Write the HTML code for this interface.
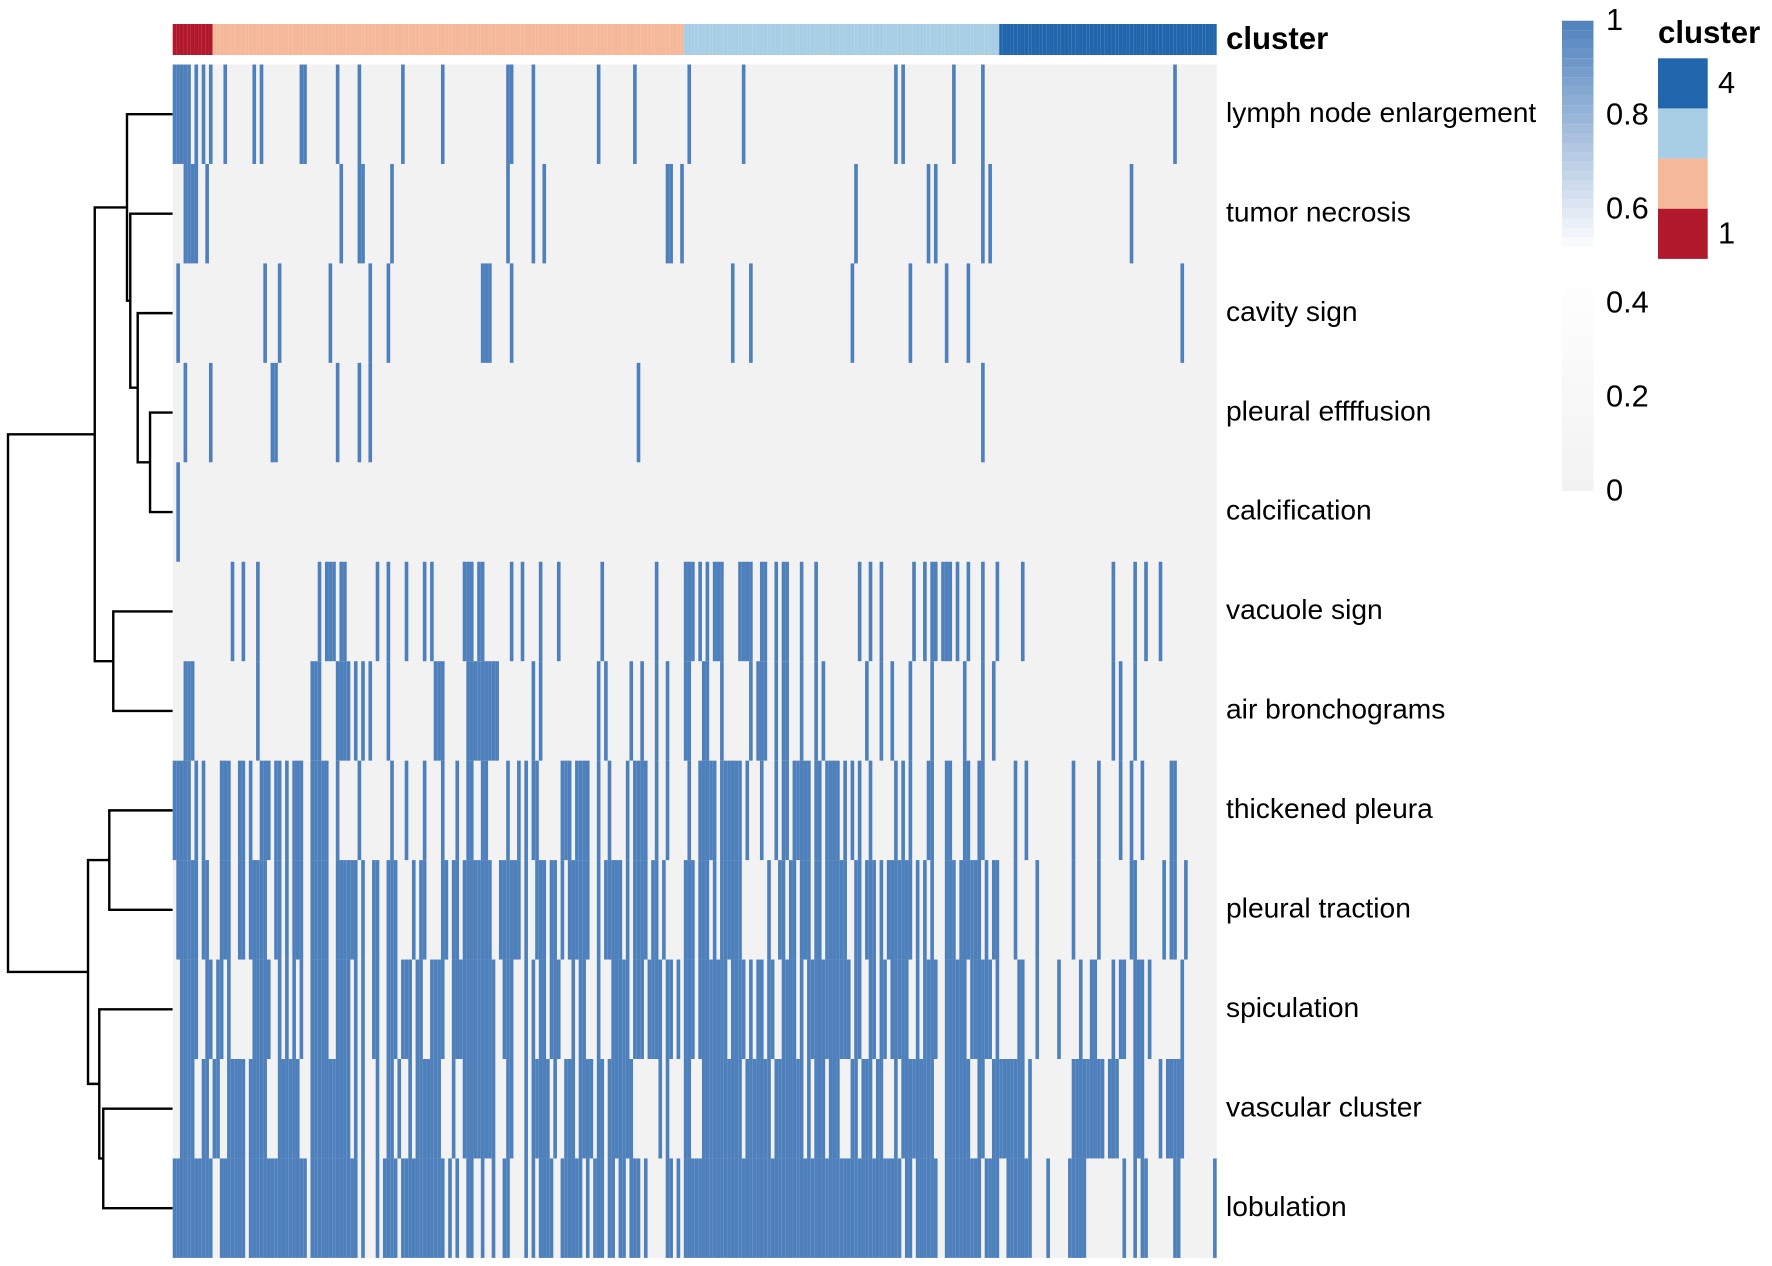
<!DOCTYPE html>
<html lang="en">
<head>
<meta charset="utf-8">
<title>Clustered heatmap of CT signs</title>
<style>
html,body{margin:0;padding:0;background:#fff;}
svg{display:block;font-family:"Liberation Sans",Arial,sans-serif;}
</style>
</head>
<body>
<svg id="chart" xmlns="http://www.w3.org/2000/svg" width="1772" height="1266" viewBox="0 0 1772 1266">
  <rect width="1772" height="1266" fill="#fff"/>
  <g id="dendrogram"></g>
  <g id="strip"></g>
  <g id="heat"></g>
  <g id="labels"></g>
  <text x="1226" y="49" font-size="31.2" font-weight="700" fill="#000">cluster</text>
  <g id="colorbar"></g>
  <g id="legend">
    <text x="1658" y="43" font-size="31.2" font-weight="700" fill="#000">cluster</text>
  </g>
</svg>
<script>
const rowNames = ["lymph node enlargement","tumor necrosis","cavity sign","pleural effffusion","calcification","vacuole sign","air bronchograms","thickened pleura","pleural traction","spiculation","vascular cluster","lobulation"];

const clusterCounts = [11,130,87,60];
const clusterColors = ["#b2182b","#f5b899","#a7cee4","#2166ac"];
const legendLabels = ["1","","","4"];
const colorbarTicks = [0,0.2,0.4,0.6,0.8,1];

const lymphNode = [0,1,2,3,4,6,8,10,14,22,24,35,36,45,51,63,74,92,93,99,117,127,142,157,199,201,215,223,276];
const tumorNecrosis = [3,4,5,6,9,46,51,52,60,92,99,102,136,137,140,188,208,210,223,225,264];
const cavitySign = [1,25,29,43,54,59,85,86,87,93,154,159,187,203,213,219,278];
const pleuralEffusion = [3,10,27,28,45,51,54,128,223];
const calcification = [1];
const vacuoleSign = [16,19,23,40,42,43,44,46,47,56,59,64,69,71,80,81,82,84,85,93,96,101,106,118,133,141,142,143,145,147,149,150,151,156,157,158,159,162,163,166,168,169,173,177,189,192,195,204,207,209,210,212,213,214,216,219,223,227,234,259,265,268,272];
const airBronchograms = [3,4,5,23,38,39,40,45,46,47,48,50,52,54,59,72,73,74,81,82,83,84,85,86,87,88,89,99,101,117,119,126,129,133,136,141,142,146,147,151,159,161,162,163,166,168,169,173,177,179,191,195,198,203,209,218,223,226,259,261,265];
const thickenedPleura = [0,1,2,3,4,6,8,13,14,15,18,19,21,24,25,26,28,29,31,33,34,35,38,39,40,41,42,45,51,60,64,69,74,78,81,82,85,86,92,95,97,99,100,107,108,109,111,112,113,114,117,120,125,127,128,129,130,133,136,142,145,146,147,148,149,151,152,153,154,155,156,158,162,166,168,169,171,172,173,174,175,177,178,180,181,182,183,185,187,189,192,199,201,203,208,209,213,214,218,219,222,223,232,235,248,255,261,264,267,275,276];
const pleuralTraction = [1,2,3,4,5,6,8,9,13,14,15,18,19,21,22,23,24,25,28,29,31,33,34,35,38,39,40,41,42,45,46,47,48,49,50,52,55,56,59,60,61,66,68,69,74,75,77,78,80,81,82,83,84,85,86,87,90,91,92,93,94,95,97,100,101,102,104,105,107,109,110,111,112,113,114,117,119,120,121,122,123,125,127,128,129,130,132,133,135,141,142,143,145,146,147,149,151,152,153,154,155,156,164,167,168,170,171,173,174,175,177,178,180,181,182,183,184,185,188,189,191,192,193,195,197,198,199,200,201,202,203,205,207,209,213,214,215,217,218,219,220,221,222,224,226,227,232,238,248,255,264,265,273,275,276,279];
const spiculation = [2,3,4,5,6,9,10,12,13,15,22,23,24,25,26,29,31,33,35,38,39,40,41,42,45,46,47,48,50,52,55,56,59,60,61,63,64,65,67,68,71,72,73,74,77,78,79,80,81,82,83,84,85,86,87,88,91,92,93,97,99,101,102,104,105,106,110,112,113,117,121,122,123,124,125,127,128,129,131,132,133,134,136,137,139,141,142,143,145,146,147,148,149,150,151,152,154,155,156,157,159,161,162,164,165,168,169,170,171,173,175,176,177,178,179,180,181,182,183,184,185,186,188,189,192,193,195,196,198,199,200,201,202,205,207,208,209,210,213,214,215,216,217,218,220,221,222,223,224,225,227,233,234,238,244,250,253,254,259,261,262,265,266,267,269,278];
const vascularCluster = [2,3,4,5,8,9,11,12,15,16,17,18,19,21,22,23,24,25,29,30,31,32,33,34,38,39,40,41,42,43,44,45,46,47,48,50,52,56,59,60,62,65,67,68,69,70,71,72,73,77,80,81,82,83,84,85,86,87,88,92,93,97,99,100,101,102,103,105,108,109,110,112,113,114,115,117,118,120,121,122,123,124,125,126,134,136,141,142,146,147,148,149,150,151,152,153,154,155,156,158,159,160,161,162,163,164,166,167,168,169,170,171,172,173,175,177,178,179,181,182,183,187,188,190,191,192,194,195,199,201,202,203,204,205,206,207,208,209,213,214,215,216,217,218,219,222,223,226,227,228,229,230,231,232,233,234,236,248,249,250,251,252,253,254,255,256,258,259,260,265,266,267,272,274,275,276,277,278];
const lobulation = [0,1,2,3,4,5,6,7,8,9,10,13,14,15,16,17,18,19,21,22,23,24,25,26,27,28,29,30,31,32,33,34,35,36,38,39,40,41,42,43,44,45,46,47,48,49,50,52,56,58,59,60,61,63,64,65,66,67,68,69,70,71,72,73,74,76,78,81,82,85,88,91,92,97,99,101,102,103,104,107,108,109,110,111,112,114,116,117,118,120,121,123,124,126,127,128,130,136,137,139,141,142,143,144,145,146,147,148,149,150,151,152,153,154,155,156,157,158,159,160,161,162,163,164,165,166,167,168,169,170,171,172,173,174,175,176,177,178,179,180,181,182,183,184,185,186,187,188,189,190,191,192,193,194,195,196,197,198,199,200,202,203,205,206,207,208,209,210,213,214,215,216,217,218,219,220,221,222,224,225,226,227,230,231,232,233,234,235,236,241,247,248,249,250,251,262,265,267,268,276,277,287];

const rowPositives = [lymphNode,tumorNecrosis,cavitySign,pleuralEffusion,calcification,vacuoleSign,airBronchograms,thickenedPleura,pleuralTraction,spiculation,vascularCluster,lobulation];

/* merges: [childA, childB, height]; a child >= 0 is a row index, a child < 0 refers to merge (-child-1) */
const dendroChildA = [3,2,1,0,5,-4,7,10,9,-7,-6];
const dendroChildB = [4,-1,-2,-3,6,-5,8,11,-8,-9,-10];
const dendroHeights = [1.65,2.55,3.09,3.33,4.33,5.68,4.62,5.06,5.35,6.17,12];

const NS = "http://www.w3.org/2000/svg";
const heatLeft = 172.7, heatRight = 1216.7, heatTop = 64.5, rowH = 99.45;
const colCount = clusterCounts.reduce(function(a,b){return a+b;},0);
const colW = (heatRight-heatLeft)/colCount;
function xScale(c){return heatLeft+c*colW;}
function yScale(r){return heatTop+r*rowH;}
function yCenter(r){return yScale(r)+rowH/2;}
function hScale(h){return heatLeft-h*13.725;}
function make(tag,attrs){
  const el=document.createElementNS(NS,tag);
  for(const k in attrs){el.setAttribute(k,attrs[k]);}
  return el;
}

/* annotation strip */
const stripG=document.getElementById("strip");
let col=0;
clusterCounts.forEach(function(count,ci){
  for(let i=0;i<count;i++){
    const r=make("rect",{x:xScale(col),y:24,width:colW,height:31,fill:clusterColors[ci]});
    
    
    stripG.appendChild(r);
    col++;
  }
});

/* heatmap */
const heatG=document.getElementById("heat");
const heatBlue="#4e80bc", heatGrey="#f2f2f2";
rowNames.forEach(function(name,ri){
  const bg=make("rect",{x:heatLeft,y:yScale(ri),width:heatRight-heatLeft,height:rowH,fill:heatGrey});
  
  
  heatG.appendChild(bg);
});
rowPositives.forEach(function(list,ri){
  list.forEach(function(c){
    const cell=make("rect",{x:xScale(c),y:yScale(ri),width:colW,height:rowH,fill:heatBlue});
    
    
    heatG.appendChild(cell);
  });
});

/* row labels */
const labelG=document.getElementById("labels");
rowNames.forEach(function(name,ri){
  const t=make("text",{x:1226,y:yCenter(ri)+7.7,"font-size":28.2,fill:"#000"});
  t.textContent=name;
  
  
  labelG.appendChild(t);
});

/* dendrogram */
const dendroG=document.getElementById("dendrogram");
const nodes=[];
function childPos(c){
  if(c>=0){return {x:heatLeft,y:yCenter(c)};}
  return nodes[-c-1];
}
dendroHeights.forEach(function(h,i){
  const a=childPos(dendroChildA[i]);
  const b=childPos(dendroChildB[i]);
  const x=hScale(h);
  const p=make("path",{d:"M"+a.x+" "+a.y+"H"+x+"V"+b.y+"H"+b.x,fill:"none",stroke:"#000","stroke-width":2.4});
  
  
  dendroG.appendChild(p);
  nodes.push({x:x,y:(a.y+b.y)/2});
});

/* colorbar */
const cbG=document.getElementById("colorbar");
const cbTop=20.7, cbBottom=491, cbLeft=1562, cbWidth=31.5;
function cbY(v){return cbBottom-(cbBottom-cbTop)*v;}
function mix(a,b,t){
  return "rgb("+a.map(function(v,i){return Math.round(v+(b[i]-v)*t);}).join(",")+")";
}
function valueColor(v){
  if(v<0.47){return mix([242,242,242],[255,255,255],Math.min(1,v/0.47));}
  if(v<0.51){return "#ffffff";}
  return mix([255,255,255],[79,129,189],(v-0.51)/0.49);
}
const cbBands=50;
for(let i=0;i<cbBands;i++){
  const v0=i/cbBands, v1=(i+1)/cbBands;
  const band=make("rect",{x:cbLeft,y:cbY(v1),width:cbWidth,height:cbY(v0)-cbY(v1),fill:valueColor((v0+v1)/2)});
  
  
  cbG.appendChild(band);
}
colorbarTicks.forEach(function(v){
  const t=make("text",{x:1606,y:cbY(v)+9.5,"font-size":30.8,fill:"#000"});
  t.textContent=String(v);
  
  
  cbG.appendChild(t);
});

/* cluster legend (drawn top to bottom: 4 .. 1) */
const legG=document.getElementById("legend");
const legTop=58.3, legH=50.15;
clusterColors.slice().reverse().forEach(function(c,i){
  const r=make("rect",{x:1658,y:legTop+i*legH,width:49.7,height:legH,fill:c});
  
  
  legG.appendChild(r);
  const label=legendLabels[legendLabels.length-1-i];
  if(label){
    const t=make("text",{x:1718,y:legTop+i*legH+legH/2+9.5,"font-size":30.8,fill:"#000"});
    t.textContent=label;
    
    
    legG.appendChild(t);
  }
});
</script>
</body>
</html>
